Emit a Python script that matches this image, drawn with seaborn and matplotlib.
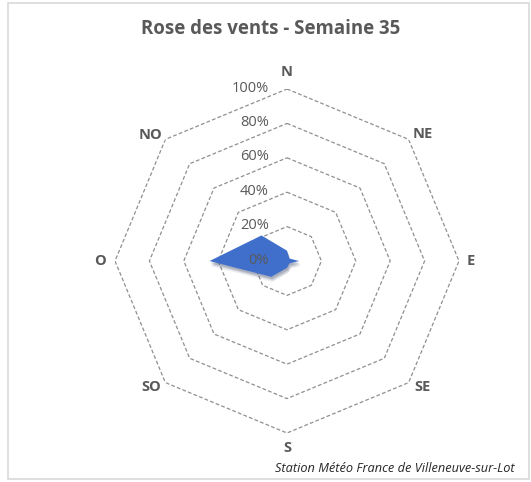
import numpy as np
import matplotlib
matplotlib.use("Agg")
import matplotlib.pyplot as plt
import matplotlib.transforms as mtransforms
from matplotlib.patches import Rectangle
import seaborn as sns

# Weekly wind direction frequencies (share of observations)
directions = ["N", "NE", "E", "SE", "S", "SO", "O", "NO"]
frequencies = [0.06, 0.02, 0.07, 0.02, 0.04, 0.13, 0.45, 0.21]
ring_levels = [0.2, 0.4, 0.6, 0.8, 1.0]
ring_labels = ["0%", "20%", "40%", "60%", "80%", "100%"]
title = "Rose des vents - Semaine 35"
source = "Station Météo France de Villeneuve-sur-Lot"

sns.set_theme(style="white")
plt.rcParams["font.family"] = ["Open Sans", "DejaVu Sans"]

W, H, DPI = 531, 482, 100
fig = plt.figure(figsize=(W / DPI, H / DPI), dpi=DPI)
fig.patch.set_facecolor("white")

# light chart-area border
fig.add_artist(Rectangle((8 / W, 3 / H), 521 / W, 476 / H, transform=fig.transFigure,
                         fill=False, edgecolor="#d9d9d9", lw=1.2))

cx, cy, R = 287, 221, 172  # centre (from bottom) and radius in pixels
ax = fig.add_axes([(cx - R) / W, (cy - R) / H, 2 * R / W, 2 * R / H], projection="polar")
ax.set_theta_zero_location("N")
ax.set_theta_direction(-1)
ax.set_ylim(0, 1)
ax.grid(False)
ax.set_xticks([])
ax.set_yticks([])
ax.spines["polar"].set_visible(False)
ax.set_facecolor("none")

n = len(directions)
angles = np.arange(n) * 2 * np.pi / n
closed_angles = np.append(angles, angles[0])

# octagonal dashed rings
for lvl in ring_levels:
    ax.plot(closed_angles, [lvl] * (n + 1), color="#8f8f8f", lw=0.9,
            linestyle=(0, (3, 1.8)), zorder=1)

vals = np.array(frequencies + frequencies[:1])

# soft drop shadow under the filled area
for dx, dy, a in [(1, -5, 0.08), (2, -4, 0.10), (1, -3, 0.12), (1, -2, 0.14)]:
    tr = mtransforms.offset_copy(ax.transData, fig=fig, x=dx, y=dy, units="dots")
    ax.fill(closed_angles, vals, color="#1a2a50", alpha=a, lw=0, transform=tr, zorder=2)

ax.fill(closed_angles, vals, color="#3f6fcb", lw=0, zorder=3)

# radial value labels along the north axis
for lvl, lab in zip([0.0] + ring_levels, ring_labels):
    ax.annotate(lab, xy=(0, lvl), xytext=(-18, 1), textcoords="offset pixels",
                ha="right", va="center", fontsize=10.5, color="#595959", zorder=4)

# compass labels, offset from the outer ring vertices
label_offsets = [(0, 17), (14, 5), (12, 0), (14, -4), (0, -15), (-14, -4), (-15, 0), (-15, 4)]
for ang, lab, (ox, oy) in zip(angles, directions, label_offsets):
    ax.annotate(lab, xy=(ang, 1.0), xytext=(ox, oy), textcoords="offset pixels",
                ha="center", va="center", fontsize=10.5,
                fontweight="bold", color="#595959")

fig.text(271 / W, 1 - 29 / H, title, ha="center", va="center",
         fontsize=13.4, fontweight="bold", color="#595959")
fig.text(515 / W, 1 - 469 / H, source, ha="right", va="center",
         fontsize=9.2, style="italic", color="#262626")

fig.savefig("out.png", dpi=DPI, facecolor="white")
